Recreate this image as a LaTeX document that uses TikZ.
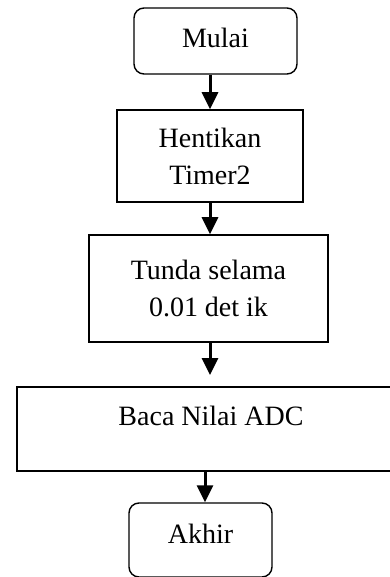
\documentclass[tikz,border=0pt]{standalone}
\usepackage{fontspec}
\setmainfont{Liberation Serif}
\usetikzlibrary{arrows.meta}

\begin{document}
\begin{tikzpicture}[x=1pt, y=-1pt,
		>={Triangle[length=17pt,width=16pt]},   %Pfeilspitzen
		kotak/.style={draw, line width=1.6pt, inner sep=0pt},
		terminal/.style={kotak, rounded corners=10pt, line width=1.4pt},
		panah/.style={->, line width=3pt},
		font=\fontsize{28}{37}\selectfont]
		%Bildbereich
		\clip (0,0) rectangle (390,577);
		%Kaesten
		\node[terminal, minimum width=163pt, text height=40pt, text depth=26pt] (mulai) at (215.5,41) {Mulai};
		\node[kotak, align=center, minimum width=186pt, minimum height=92pt] (hentikan) at (210,156) {Hentikan\\Timer2};
		\node[kotak, align=center, minimum width=239pt, minimum height=107pt] (tunda) at (208.5,288.5) {Tunda selama\\0.01 det ik};
		\node[kotak, minimum width=388pt, text height=38pt, text depth=46pt] (baca) at (211,429) {Baca Nilai ADC};
		\node[terminal, minimum width=143pt, text height=40pt, text depth=34pt] (akhir) at (200.5,540) {Akhir};
		%Pfeile
		\coordinate (ujung) at (210,375);
		\draw[panah] ([xshift=-5.5pt]mulai.south) -- (hentikan.north);
		\draw[panah] (hentikan.south) -- (hentikan.south |- tunda.north);
		\draw[panah] (tunda.south -| ujung) -- (ujung);
		\draw[panah] ([xshift=-6pt]baca.south) -- ([xshift=4.5pt]akhir.north);
	\end{tikzpicture}
\end{document}
